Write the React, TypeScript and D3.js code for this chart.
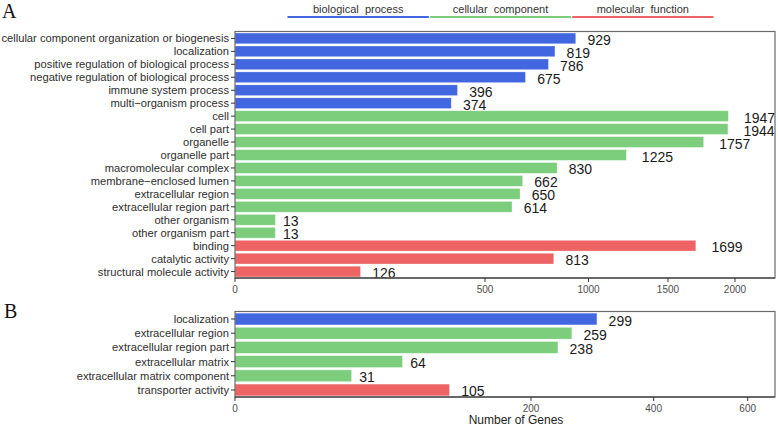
import React from "react";
import * as d3 from "d3";

const catsA = [
  "cellular component organization or biogenesis",
  "localization",
  "positive regulation of biological process",
  "negative regulation of biological process",
  "immune system process",
  "multi\u2212organism process",
  "cell",
  "cell part",
  "organelle",
  "organelle part",
  "macromolecular complex",
  "membrane\u2212enclosed lumen",
  "extracellular region",
  "extracellular region part",
  "other organism",
  "other organism part",
  "binding",
  "catalytic activity",
  "structural molecule activity",
];
const valsA = [929, 819, 786, 675, 396, 374, 1947, 1944, 1757, 1225, 830, 662, 650, 614, 13, 13, 1699, 813, 126];
const groupA = ["BP", "BP", "BP", "BP", "BP", "BP", "CC", "CC", "CC", "CC", "CC", "CC", "CC", "CC", "CC", "CC", "MF", "MF", "MF"];

const catsB = [
  "localization",
  "extracellular region",
  "extracellular region part",
  "extracellular matrix",
  "extracellular matrix component",
  "transporter activity",
];
const valsB = [299, 259, 238, 64, 31, 105];
const groupB = ["BP", "CC", "CC", "CC", "CC", "MF"];

const ticksA = [0, 500, 1000, 1500, 2000];
const ticksB = [0, 200, 400, 600];

const groupKeys = ["BP", "CC", "MF"];
const legendNames = ["biological  process", "cellular  component", "molecular  function"];
const groupColors = ["#4166E0", "#7CCD7C", "#EE6363"];

const FONT = "'Liberation Sans', Arial, Helvetica, sans-serif";
const colorOf = d3.scaleOrdinal<string, string>().domain(groupKeys).range(groupColors);

function Panel({ cats, vals, groups, ticks, xMax, top, bottom }: any) {
  const left = 235, right = 775;
  const x = d3.scaleSqrt().domain([0, xMax]).range([left, right]);
  const y = d3.scaleBand<string>().domain(cats).range([top, bottom]).paddingInner(0.17).paddingOuter(0.08);
  const digitW = 14 * 0.556;
  return (
    <g>
      {cats.map((c: string, i: number) => (
        <rect key={"b" + i} x={x(0)} y={y(c)!} width={x(vals[i]) - x(0)} height={y.bandwidth()}
          fill={colorOf(groups[i])} stroke="#ffffff" strokeOpacity={0.5} strokeWidth={0.6} />
      ))}
      {cats.map((c: string, i: number) => (
        <text key={"v" + i} x={x(vals[i]) + 0.5 * String(vals[i]).length * digitW} y={y(c)! + y.bandwidth() / 2 + 1.5}
          dominantBaseline="central" fontSize={14} fontFamily={FONT} fill="#1a1a1a">{vals[i]}</text>
      ))}
      <rect x={left} y={top - 0.5} width={right - left} height={bottom - top + 0.5} fill="none" stroke="#6a6a6a" strokeWidth={1.2} />
      <line x1={left} x2={right} y1={bottom} y2={bottom} stroke="#555" strokeWidth={1.6} />
      {cats.map((c: string, i: number) => (
        <g key={"y" + i}>
          <line x1={left - 4} x2={left} y1={y(c)! + y.bandwidth() / 2} y2={y(c)! + y.bandwidth() / 2} stroke="#333" strokeWidth={1} />
          <text x={left - 6} y={y(c)! + y.bandwidth() / 2} textAnchor="end" dominantBaseline="central"
            fontSize={11.2} fontFamily={FONT} fill="#2e2e2e">{c}</text>
        </g>
      ))}
      {ticks.map((t: number) => (
        <g key={"t" + t}>
          <line x1={x(t)} x2={x(t)} y1={bottom} y2={bottom + 4} stroke="#333" strokeWidth={1} />
          <text x={x(t)} y={bottom + 11} textAnchor="middle" dominantBaseline="central"
            fontSize={10} fontFamily={FONT} fill="#4d4d4d">{t}</text>
        </g>
      ))}
    </g>
  );
}

export default function App() {
  const legendX = d3.scaleLinear().domain([0, 3]).range([287, 714]);
  return (
    <svg width={778} height={427} style={{ position: "absolute", left: 0, top: 0, background: "#fff" }}>
      <rect x={0} y={0} width={778} height={427} fill="#fff" />
      <text x={2} y={18} fontSize={20} fontFamily="'Liberation Serif', 'Times New Roman', serif" fill="#111">A</text>
      <text x={4} y={318} fontSize={20} fontFamily="'Liberation Serif', 'Times New Roman', serif" fill="#111">B</text>
      {legendNames.map((n, i) => (
        <g key={n}>
          <line x1={legendX(i) + 0.5} x2={legendX(i + 1) - 0.5} y1={17} y2={17} stroke={groupColors[i]} strokeWidth={2.2} />
          <text x={(legendX(i) + legendX(i + 1)) / 2} y={13} textAnchor="middle" fontSize={11}
            fontFamily={FONT} fill="#333" style={{ whiteSpace: "pre" }}>{n}</text>
        </g>
      ))}
      <Panel cats={catsA} vals={valsA} groups={groupA} ticks={ticksA} xMax={2333} top={32} bottom={278} />
      <Panel cats={catsB} vals={valsB} groups={groupB} ticks={ticksB} xMax={665.6} top={312} bottom={397} />
      <text x={516} y={420} textAnchor="middle" dominantBaseline="central" fontSize={12} fontFamily={FONT} fill="#222">Number of Genes</text>
    </svg>
  );
}
